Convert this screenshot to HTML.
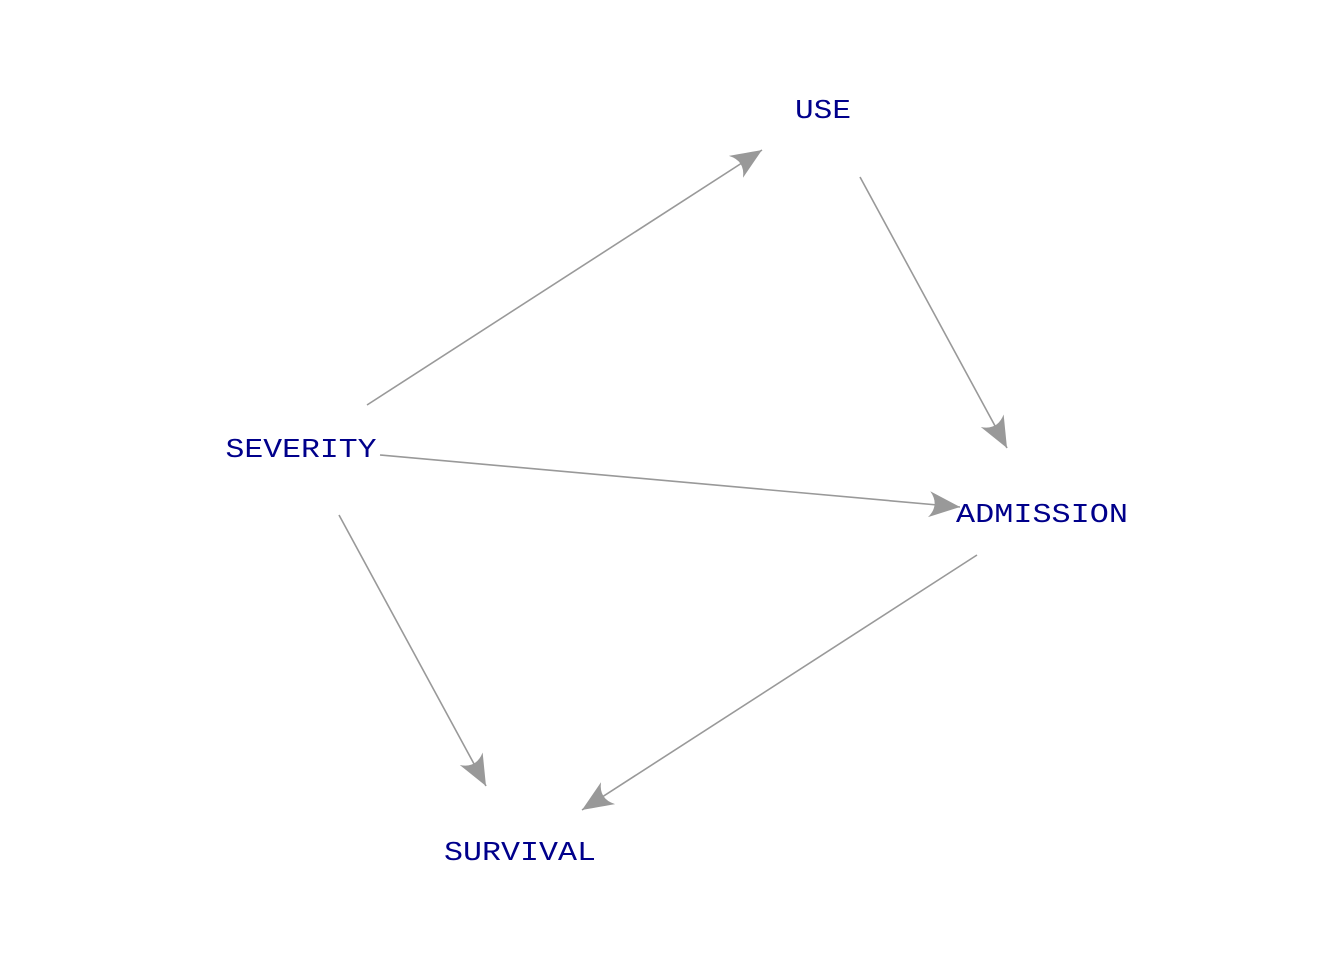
<!DOCTYPE html>
<html><head><style>html,body{margin:0;padding:0;background:#fff}</style></head>
<body>
<svg width="1344" height="960" viewBox="0 0 1344 960" xmlns="http://www.w3.org/2000/svg">
<defs>
<marker id="a" markerUnits="userSpaceOnUse" markerWidth="40" markerHeight="34" refX="0" refY="0" viewBox="-34 -17 40 34" orient="auto">
<path d="M0,0 Q-12,-5 -31,-13 Q-20,0 -31,13 Q-12,5 0,0 Z" fill="#999"/>
</marker>
</defs>
<g stroke="#999" stroke-width="1.6" fill="none" marker-end="url(#a)">
<line x1="367" y1="405" x2="762" y2="150"/>
<line x1="860" y1="177" x2="1007" y2="448"/>
<line x1="380" y1="455" x2="960" y2="507"/>
<line x1="977" y1="555" x2="582" y2="810"/>
<line x1="339" y1="515" x2="486" y2="786"/>
</g>
<g font-family="Liberation Mono, monospace" font-size="27" fill="#00008B" text-anchor="middle">
<text x="823" y="118" textLength="56" lengthAdjust="spacingAndGlyphs">USE</text>
<text x="301" y="457" textLength="151" lengthAdjust="spacingAndGlyphs">SEVERITY</text>
<text x="1042" y="522" textLength="172" lengthAdjust="spacingAndGlyphs">ADMISSION</text>
<text x="520" y="860" textLength="152" lengthAdjust="spacingAndGlyphs">SURVIVAL</text>
</g>
</svg>
</body></html>
